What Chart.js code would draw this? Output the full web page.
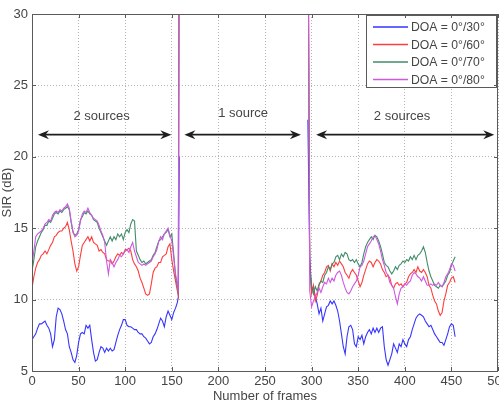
<!DOCTYPE html>
<html>
<head>
<meta charset="utf-8">
<title>SIR vs frames</title>
<script src="https://cdn.jsdelivr.net/npm/chart.js@4/dist/chart.umd.min.js"></script>
<style>
  html, body { margin: 0; padding: 0; background: #fff; }
  #wrap { width: 499px; height: 401px; }
</style>
</head>
<body>
<div id="wrap"><canvas id="chart" width="499" height="401"></canvas></div>
<script>
// frames of the two "2 sources" stretches (the 1-source stretch has no finite SIR)
const framesSeg1 = [0, 2, 4, 6, 8, 10, 12, 14, 16, 18, 20, 22, 24, 26, 28, 30, 32, 34, 36, 38,
  40, 42, 44, 46, 48, 50, 52, 54, 56, 58, 60, 62, 64, 66, 68, 70, 72, 74, 76, 78,
  80, 82, 84, 86, 88, 90, 92, 94, 96, 98, 100, 102, 104, 106, 108, 110, 112, 114, 116, 118,
  120, 122, 124, 126, 128, 130, 132, 134, 136, 138, 140, 142, 144, 146, 148, 150, 152, 154, 156,
  157, 158];
const framesSeg2 = [296, 298, 300, 302, 304, 306, 308, 310, 312, 314, 316, 318, 320, 322, 324, 326, 328, 330, 332, 334,
  336, 338, 340, 342, 344, 346, 348, 350, 352, 354, 356, 358, 360, 362, 364, 366, 368, 370, 372, 374,
  376, 378, 380, 382, 384, 386, 388, 390, 392, 394, 396, 398, 400, 402, 404, 406, 408, 410, 412, 414,
  416, 418, 420, 422, 424, 426, 428, 430, 432, 434, 436, 438, 440, 442, 444, 446, 448, 450, 452, 454];

// SIR (dB), DOA = 0/30
const sir30Seg1 = [7.2, 7.4, 7.6, 8.0, 8.3, 8.3, 8.4, 8.5, 8.2, 8.0, 7.6, 6.7, 7.2, 8.8, 9.4, 9.3, 9.0, 8.5, 7.9, 7.6,
  6.7, 6.3, 5.8, 5.6, 6.1, 7.0, 7.6, 7.7, 7.6, 8.2, 8.0, 8.2, 7.2, 6.3, 5.7, 5.8, 6.3, 6.7, 6.6, 6.3,
  6.6, 6.4, 6.6, 6.4, 6.5, 7.0, 7.5, 7.9, 8.2, 8.6, 8.6, 8.2, 8.1, 8.1, 8.0, 7.9, 7.9, 7.7, 7.6, 7.6,
  7.4, 7.3, 7.1, 6.9, 7.0, 7.4, 7.6, 7.9, 8.3, 8.7, 8.5, 8.1, 8.8, 9.2, 8.9, 8.6, 9.1, 9.4, 9.8,
  10.2, 20.0];
const sir30Seg2 = [22.6, 13.0, 10.6, 10.9, 10.2, 9.7, 9.0, 9.4, 8.5, 9.0, 9.5, 9.6, 9.9, 9.7, 9.9, 9.6, 9.2, 8.5, 7.6, 6.7,
  6.2, 7.4, 8.1, 8.2, 7.9, 6.9, 6.7, 7.4, 7.2, 7.5, 6.9, 7.4, 7.7, 7.9, 7.6, 8.0, 7.7, 8.0, 7.7, 8.0,
  8.1, 6.7, 5.8, 5.4, 5.8, 6.2, 6.9, 6.6, 6.3, 6.9, 6.7, 7.2, 6.9, 6.7, 7.2, 7.4, 7.9, 8.3, 8.7, 8.9,
  9.0, 8.9, 8.8, 8.5, 8.3, 8.1, 8.2, 7.9, 7.6, 7.4, 7.2, 7.0, 7.0, 6.8, 7.2, 7.6, 8.1, 8.3, 8.2, 7.4];

// SIR (dB), DOA = 0/60
const sir60Seg1 = [10.8, 11.6, 12.2, 12.6, 12.8, 13.1, 13.2, 13.4, 13.2, 13.5, 13.8, 14.0, 14.4, 14.5, 14.7, 14.8, 14.8, 15.0, 15.1, 15.4,
  14.9, 14.1, 13.4, 12.5, 12.0, 12.3, 13.1, 13.8, 14.0, 14.2, 14.4, 14.1, 14.4, 14.0, 13.9, 13.8, 13.4, 13.5, 13.3, 13.2,
  12.8, 12.7, 12.7, 12.5, 12.7, 13.0, 13.2, 13.1, 13.3, 13.2, 13.5, 13.5, 13.6, 13.4, 12.8, 12.5, 12.3, 12.0, 11.5, 11.2,
  10.8, 10.4, 10.3, 10.4, 11.1, 11.9, 12.2, 12.3, 12.6, 12.6, 13.0, 13.1, 13.2, 13.7, 13.9, 12.8, 12.0, 11.3, 10.6,
  10.3, 40.0];
const sir60Seg2 = [40.0, 12.5, 10.4, 11.0, 9.9, 10.3, 11.0, 11.3, 11.7, 11.9, 12.3, 12.4, 12.0, 12.5, 12.3, 12.6, 12.4, 12.7, 12.5, 12.3,
  11.9, 11.7, 11.5, 11.9, 12.1, 11.9, 11.7, 11.3, 10.9, 11.2, 11.7, 12.1, 12.5, 12.7, 12.6, 12.3, 12.6, 12.8, 12.7, 12.5,
  12.1, 11.9, 11.6, 11.7, 11.5, 11.0, 10.8, 11.1, 11.2, 11.0, 11.1, 10.9, 11.1, 11.2, 11.6, 11.8, 11.9, 12.1, 11.9, 12.3,
  12.0, 11.9, 12.1, 11.9, 11.6, 11.0, 10.8, 10.3, 9.9, 9.7, 9.2, 8.9, 9.1, 9.9, 10.4, 11.0, 11.2, 11.5, 11.6, 11.2];

// SIR (dB), DOA = 0/70
const sir70Seg1 = [12.0, 12.8, 13.7, 14.1, 14.4, 14.7, 14.9, 15.2, 15.2, 15.5, 15.4, 15.7, 16.0, 16.1, 16.0, 16.2, 16.1, 16.3, 16.4, 16.5,
  16.3, 15.4, 14.7, 14.5, 14.6, 14.9, 15.6, 15.8, 16.1, 16.0, 16.2, 16.0, 15.9, 15.6, 15.5, 15.4, 15.0, 14.7, 14.4, 14.1,
  13.8, 14.1, 14.4, 14.1, 14.4, 14.2, 14.6, 14.4, 14.6, 14.2, 14.7, 14.9, 14.7, 15.3, 15.6, 15.5, 13.4, 13.1, 12.8, 12.6,
  12.7, 12.5, 12.6, 12.7, 12.8, 13.1, 13.3, 13.7, 14.1, 14.2, 14.4, 14.6, 14.7, 14.9, 14.4, 14.6, 13.2, 11.6, 10.9,
  10.4, 40.0];
const sir70Seg2 = [40.0, 12.0, 11.0, 10.4, 10.9, 10.6, 11.1, 11.3, 11.2, 11.7, 11.9, 12.3, 12.1, 12.5, 12.6, 13.0, 13.1, 12.8, 13.2, 13.0,
  13.3, 13.2, 12.8, 12.7, 12.8, 12.6, 12.8, 12.5, 12.3, 12.6, 13.2, 13.7, 14.0, 14.2, 14.4, 14.2, 14.5, 14.4, 14.1, 13.7,
  13.2, 12.6, 12.4, 12.3, 12.0, 11.8, 12.0, 12.3, 12.1, 12.4, 12.5, 12.7, 12.6, 12.8, 12.7, 13.0, 12.8, 13.1, 12.8, 13.1,
  13.2, 13.4, 13.7, 13.3, 12.6, 12.0, 11.6, 11.3, 11.0, 10.9, 10.8, 11.0, 10.9, 11.1, 11.3, 11.7, 11.9, 12.4, 12.7, 13.0];

// SIR (dB), DOA = 0/80
const sir80Seg1 = [12.5, 13.4, 14.4, 14.6, 14.7, 14.8, 15.0, 15.3, 15.4, 15.6, 15.5, 15.9, 16.1, 16.2, 16.1, 16.3, 16.2, 16.4, 16.5, 16.7,
  16.4, 15.5, 14.8, 14.4, 14.5, 14.8, 15.5, 16.0, 16.2, 16.1, 16.4, 16.1, 15.9, 15.7, 15.6, 15.5, 15.2, 14.8, 14.5, 14.0,
  12.7, 11.8, 12.8, 12.6, 12.3, 12.6, 12.8, 13.1, 13.0, 13.2, 13.4, 13.5, 13.3, 13.7, 14.0, 13.4, 13.0, 12.6, 12.5, 12.4,
  12.5, 12.4, 12.5, 12.6, 12.7, 13.0, 13.2, 13.5, 14.1, 14.4, 14.2, 14.6, 14.8, 15.0, 14.5, 14.1, 13.0, 11.8, 11.1,
  10.5, 40.0];
const sir80Seg2 = [40.0, 10.6, 9.5, 9.9, 10.2, 10.5, 10.8, 10.5, 10.9, 11.2, 11.1, 11.5, 11.2, 11.5, 11.3, 11.7, 11.9, 12.0, 11.7, 11.2,
  10.8, 10.5, 10.4, 10.6, 10.9, 11.1, 11.3, 11.7, 12.3, 12.4, 12.7, 13.2, 13.7, 13.9, 14.1, 14.4, 14.5, 14.2, 13.9, 13.4,
  12.8, 12.4, 11.9, 11.7, 11.2, 11.0, 10.8, 10.2, 9.7, 10.4, 10.8, 10.9, 11.1, 11.0, 11.2, 11.3, 11.7, 11.9, 11.8, 11.6,
  11.5, 11.3, 11.6, 11.3, 11.0, 11.0, 11.1, 11.0, 11.1, 11.0, 11.2, 11.0, 10.9, 11.2, 11.6, 11.8, 12.1, 12.5, 12.4, 12.0];

const seriesLabels = ['DOA = 0°/30°', 'DOA = 0°/60°', 'DOA = 0°/70°', 'DOA = 0°/80°'];
const seriesColors = ['#3535ff', '#ff3d3d', '#418d69', '#cf58e0'];

const xTicks = [0, 50, 100, 150, 200, 250, 300, 350, 400, 450, 500];
const yTicks = [5, 10, 15, 20, 25, 30];

// double-headed arrows marking the source-count stretches
const arrowSpans = [[6.4, 149.5], [163.5, 288.5], [304.8, 496]];
const arrowLevel = 21.55;
const arrowLabels = ['2 sources', '1 source', '2 sources'];
const arrowLabelX = [74.7, 226.5, 397];
const arrowLabelY = [22.8, 23.05, 22.85];

const FONT = "'Liberation Sans', Arial, Helvetica, sans-serif";
const TEXT_COLOR = '#454545';
const FRAME_COLOR = '#5a5a5a';

function toPoints(f1, v1, f2, v2) {
  const pts = f1.map((x, i) => ({ x, y: v1[i] }));
  pts.push({ x: (f1[f1.length - 1] + f2[0]) / 2, y: null });
  return pts.concat(f2.map((x, i) => ({ x, y: v2[i] })));
}

const segData = [
  toPoints(framesSeg1, sir30Seg1, framesSeg2, sir30Seg2),
  toPoints(framesSeg1, sir60Seg1, framesSeg2, sir60Seg2),
  toPoints(framesSeg1, sir70Seg1, framesSeg2, sir70Seg2),
  toPoints(framesSeg1, sir80Seg1, framesSeg2, sir80Seg2),
];

function drawArrowHead(ctx, x, y, dir) {
  // filled arrow head with a notched back, tip at (x, y)
  ctx.beginPath();
  ctx.moveTo(x, y);
  ctx.lineTo(x - dir * 11, y - 4.5);
  ctx.lineTo(x - dir * 7.5, y);
  ctx.lineTo(x - dir * 11, y + 4.5);
  ctx.closePath();
  ctx.fill();
}

const decorPlugin = {
  id: 'decor',
  afterDraw(chart) {
    const { ctx, chartArea: area } = chart;
    const xs = chart.scales.x;
    const ys = chart.scales.y;
    ctx.save();

    // arrows + labels
    ctx.strokeStyle = '#1e1e1e';
    ctx.fillStyle = '#1e1e1e';
    ctx.lineWidth = 1.6;
    const ay = ys.getPixelForValue(arrowLevel);
    arrowSpans.forEach(([a, b]) => {
      const xa = xs.getPixelForValue(a);
      const xb = xs.getPixelForValue(b);
      ctx.beginPath();
      ctx.moveTo(xa + 6, ay);
      ctx.lineTo(xb - 6, ay);
      ctx.stroke();
      drawArrowHead(ctx, xa, ay, -1);
      drawArrowHead(ctx, xb, ay, 1);
    });
    ctx.font = '13px ' + FONT;
    ctx.fillStyle = TEXT_COLOR;
    ctx.textAlign = 'center';
    ctx.textBaseline = 'middle';
    arrowLabels.forEach((t, i) => {
      ctx.fillText(t, xs.getPixelForValue(arrowLabelX[i]), ys.getPixelForValue(arrowLabelY[i]));
    });

    // legend box, top right inside the axes
    const lx = 366, ly = 15, lw = 131, lh = 73;
    ctx.fillStyle = '#fff';
    ctx.fillRect(lx, ly, lw, lh);
    ctx.strokeStyle = FRAME_COLOR;
    ctx.lineWidth = 1;
    ctx.strokeRect(lx + 0.5, ly + 0.5, lw - 1, lh - 1);
    ctx.textAlign = 'left';
    ctx.font = '12.2px ' + FONT;
    seriesLabels.forEach((label, i) => {
      const rowY = ly + 12 + i * 17.5;
      ctx.strokeStyle = seriesColors[i];
      ctx.lineWidth = 1.3;
      ctx.beginPath();
      ctx.moveTo(373, rowY);
      ctx.lineTo(408, rowY);
      ctx.stroke();
      ctx.fillStyle = TEXT_COLOR;
      ctx.fillText(label, 411, rowY + 1);
    });

    // axes box with inward ticks
    ctx.strokeStyle = FRAME_COLOR;
    ctx.lineWidth = 1;
    ctx.strokeRect(Math.round(area.left) + 0.5, Math.round(area.top) + 0.5,
      Math.round(area.right - area.left) - 1, Math.round(area.bottom - area.top));
    ctx.beginPath();
    xTicks.forEach((v) => {
      const px = Math.round(xs.getPixelForValue(v)) + 0.5;
      ctx.moveTo(px, area.top);
      ctx.lineTo(px, area.top + 4);
      ctx.moveTo(px, area.bottom);
      ctx.lineTo(px, area.bottom - 4);
    });
    yTicks.forEach((v) => {
      const py = Math.round(ys.getPixelForValue(v)) + 0.5;
      ctx.moveTo(area.left, py);
      ctx.lineTo(area.left + 4, py);
      ctx.moveTo(area.right, py);
      ctx.lineTo(area.right - 4, py);
    });
    ctx.stroke();
    ctx.restore();
  },
};

new Chart(document.getElementById('chart'), {
  type: 'line',
  data: {
    datasets: segData.map((pts, i) => ({
      label: seriesLabels[i],
      data: pts,
      borderColor: seriesColors[i],
      backgroundColor: seriesColors[i],
      borderWidth: 1.1,
      pointRadius: 0,
      tension: 0,
      spanGaps: false,
      order: 4 - i, // later series are painted on top
    })),
  },
  options: {
    responsive: false,
    animation: false,
    devicePixelRatio: 1,
    layout: { autoPadding: false, padding: { top: 14, right: 1, left: 0, bottom: 0 } },
    plugins: { legend: { display: false }, tooltip: { enabled: false } },
    scales: {
      x: {
        type: 'linear',
        min: 0,
        max: 500,
        afterFit: (s) => { s.height = 30; s.paddingLeft = 0; s.paddingRight = 0; },
        afterBuildTicks: (s) => { s.ticks = xTicks.map((v) => ({ value: v })); },
        grid: { color: '#b4b4b4', lineWidth: 1, drawTicks: false },
        border: { display: false, dash: [1, 2] },
        ticks: { padding: 3, color: TEXT_COLOR, font: { family: FONT, size: 13 }, maxRotation: 0 },
        title: {
          display: true,
          text: 'Number of frames',
          color: TEXT_COLOR,
          font: { family: FONT, size: 13 },
          padding: { top: 0, bottom: -3 },
        },
      },
      y: {
        type: 'linear',
        min: 5,
        max: 30,
        afterFit: (s) => { s.width = 32; s.paddingTop = 0; s.paddingBottom = 0; },
        afterBuildTicks: (s) => { s.ticks = yTicks.map((v) => ({ value: v })); },
        grid: { color: '#b4b4b4', lineWidth: 1, drawTicks: false },
        border: { display: false, dash: [1, 2] },
        ticks: { padding: 4, color: TEXT_COLOR, font: { family: FONT, size: 13 } },
        title: {
          display: true,
          text: 'SIR (dB)',
          color: TEXT_COLOR,
          font: { family: FONT, size: 13 },
          padding: { top: 0, bottom: 0 },
        },
      },
    },
  },
  plugins: [decorPlugin],
});
</script>
</body>
</html>
